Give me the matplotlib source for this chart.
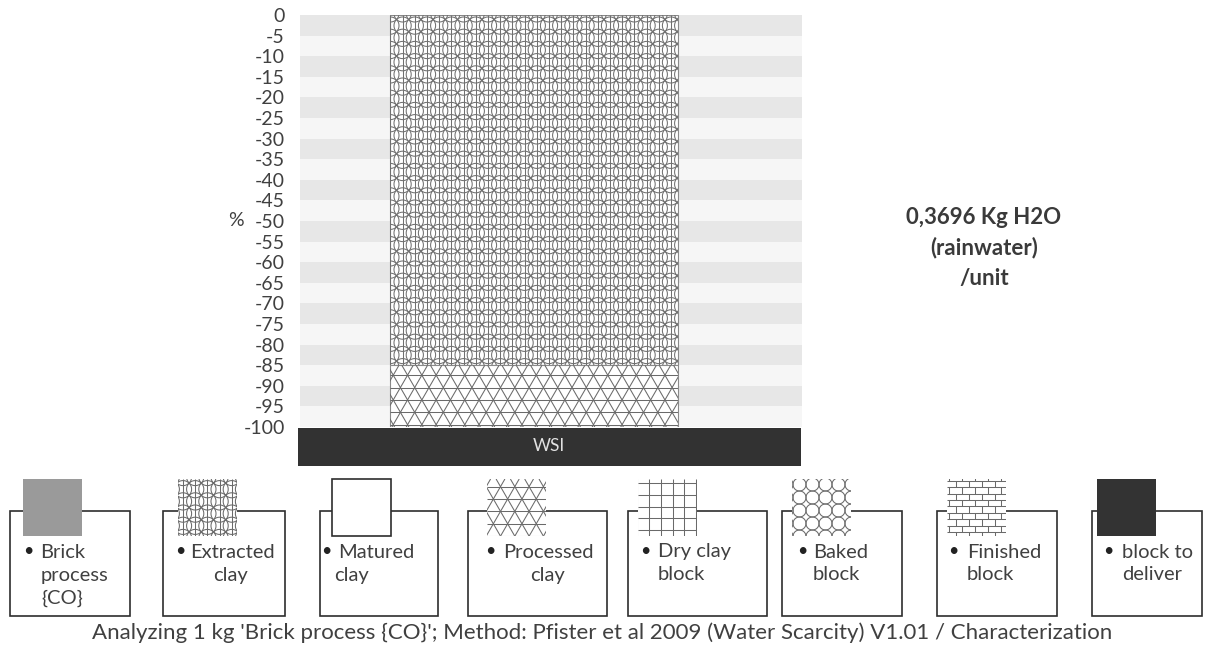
import numpy as np
import matplotlib
matplotlib.use("Agg")
import matplotlib.pyplot as plt
from matplotlib.patches import Rectangle
from matplotlib.collections import LineCollection
from matplotlib.transforms import IdentityTransform

plt.rcParams["font.family"] = ["Lato", "DejaVu Sans"]

# ---- data -------------------------------------------------------------
category = "WSI"
stage_names = ["Brick process {CO}", "Extracted clay", "Matured clay", "Processed clay",
               "Dry clay block", "Baked block", "Finished block", "block to deliver"]
legend_lines = [["Brick", "process", "{CO}"], ["Extracted", "clay"], ["Matured", "clay"],
                ["Processed", "clay"], ["Dry clay", "block"], ["Baked", "block"],
                ["Finished", "block"], ["block to", "deliver"]]
wsi_share = [0.0, -85.0, 0.0, -15.0, 0.0, 0.0, 0.0, 0.0]   # % of total
y_ticks = list(range(0, -101, -5))
y_tick_labels = [str(v) for v in y_ticks]
total_text = ["0,3696 Kg H2O", "(rainwater)", "/unit"]
caption = ("Analyzing 1 kg 'Brick process {CO}'; Method: Pfister et al 2009 "
           "(Water Scarcity) V1.01 / Characterization")

# fill style of every stage: (face colour, line pattern)
stage_fill = [("#9a9a9a", None), ("white", "rings"), ("white", None), ("white", "tri"),
              ("white", "grid"), ("white", "circles"), ("white", "bricks"), ("#333333", None)]

W, H = 1206, 660
TXT = "#404040"
PAT = "#6a6a6a"


def _circle(cx, cy, r, n=36):
    t = np.linspace(0, 2 * np.pi, n + 1)
    return np.column_stack([cx + r * np.cos(t), cy + r * np.sin(t)])


def pattern_segments(kind, x0, y0, x1, y1):
    """Line work of a fill pattern covering a display-pixel box."""
    segs = []
    if kind == "grid":
        s = 11.8
        for x in np.arange(np.floor(x0 / s) * s, x1 + s, s):
            segs.append([(x, y0), (x, y1)])
        for y in np.arange(np.floor(y0 / s) * s, y1 + s, s):
            segs.append([(x0, y), (x1, y)])
    elif kind == "tri":
        a = 14.3
        h = a * np.sqrt(3) / 2
        k = a / (2 * h)
        for y in np.arange(np.floor(y0 / h) * h, y1 + h, h):
            segs.append([(x0, y), (x1, y)])
        for c in np.arange(np.floor((x0 - k * y1) / a) * a, x1 - k * y0 + a, a):
            segs.append([(c + k * y0, y0), (c + k * y1, y1)])
        for c in np.arange(np.floor((x0 + k * y0) / a) * a, x1 + k * y1 + a, a):
            segs.append([(c - k * y0, y0), (c - k * y1, y1)])
    elif kind == "rings":
        s = 12.2
        r = s / np.sqrt(2)
        for i in np.arange(np.floor(x0 / s) - 1, np.ceil(x1 / s) + 2):
            segs.append([(i * s, y0), (i * s, y1)])
            for j in np.arange(np.floor(y0 / s) - 1, np.ceil(y1 / s) + 2):
                segs.append(_circle(i * s, j * s, r))
    elif kind == "circles":
        s = 13.0
        for i in np.arange(np.floor(x0 / s) - 1, np.ceil(x1 / s) + 1):
            for j in np.arange(np.floor(y0 / s) - 1, np.ceil(y1 / s) + 1):
                segs.append(_circle((i + 0.5) * s, (j + 0.5) * s, s / 2))
    elif kind == "bricks":
        bh, bw = 6.4, 13.0
        rows = np.arange(np.floor(y0 / bh), np.ceil(y1 / bh) + 1)
        for j in rows:
            y = j * bh
            segs.append([(x0, y), (x1, y)])
            off = (j % 2) * bw / 2
            for x in np.arange(np.floor(x0 / bw) * bw + off - bw, x1 + bw, bw):
                segs.append([(x, y), (x, y + bh)])
    return segs


def fill_pattern(ax, patch, kind, lw=0.75, color=PAT, z=2.5):
    if kind is None:
        return
    bb = patch.get_window_extent()
    segs = pattern_segments(kind, bb.x0, bb.y0, bb.x1, bb.y1)
    lc = LineCollection(segs, colors=color, linewidths=lw, transform=IdentityTransform(),
                        zorder=z)
    ax.add_collection(lc, autolim=False)
    lc.set_clip_path(patch)


fig = plt.figure(figsize=(W / 100, H / 100), dpi=100)
fig.patch.set_facecolor("white")

# ---- main stacked column -----------------------------------------------
ax = fig.add_axes([300 / W, 1 - 427 / H, 502 / W, 412 / H])
ax.set_xlim(-0.8125, 0.9306)
ax.set_ylim(-100, 0)
for spine in ax.spines.values():
    spine.set_visible(False)
ax.set_xticks([])
ax.set_yticks(y_ticks)
ax.set_yticklabels(y_tick_labels)
ax.tick_params(axis="y", length=0, pad=11, labelsize=14, labelcolor=TXT)

# alternating horizontal bands behind the column
for n, top in enumerate(y_ticks[:-1]):
    ax.axhspan(top - 5, top, color="#e7e7e7" if n % 2 == 0 else "#f6f6f6",
               lw=0, zorder=0)

bottom = 0.0
for val, (face, kind) in zip(wsi_share, stage_fill):
    if val == 0:
        continue
    bars = ax.bar([0], [val], bottom=bottom, width=1.0, color="white",
                  edgecolor="#8a8a8a", linewidth=0.8, zorder=2)
    fill_pattern(ax, bars[0], kind, color="#707070" if kind == "rings" else PAT)
    bottom += val

# ---- overlay in pixel coordinates for labels and legend -----------------
lay = fig.add_axes([0, 0, 1, 1])
lay.set_xlim(0, W)
lay.set_ylim(H, 0)
lay.axis("off")

# category strip
lay.add_patch(Rectangle((298, 428), 503, 38, facecolor="#323232", edgecolor="none"))
lay.text(549, 446, category, color="#e2e2e2", fontsize=12.5, ha="center", va="center")

lay.text(236, 221, "%", color=TXT, fontsize=14, ha="center", va="center")

for n, line in enumerate(total_text):
    lay.text(984, 217 + n * 31, line, color="#3a3a3a", fontsize=16, fontweight="bold",
             ha="center", va="center")

# legend boxes: box left/right, swatch left, bullet x, x of each text line
boxes = [
    (10, 130, 23, 28, [40, 41, 41]),
    (163, 285, 178, 180, [190, 213]),
    (320, 438, 332, 326, [338, 334]),
    (468, 607, 487, 490, [503, 530]),
    (628, 767, 638, 645, [658, 658]),
    (782, 902, 792, 802, [813, 813]),
    (937, 1057, 947, 953, [967, 967]),
    (1092, 1202, 1097, 1108, [1122, 1122]),
]
for (bl, br, sl, bx, lx), lines, (face, kind) in zip(boxes, legend_lines, stage_fill):
    lay.add_patch(Rectangle((bl, 511), br - bl, 105, facecolor="white",
                            edgecolor="#2e2e2e", linewidth=1.2, zorder=1))
    sw_edge = "#2e2e2e" if (face == "white" and kind is None) else "none"
    sw = Rectangle((sl, 479), 59, 57, facecolor=face, edgecolor=sw_edge,
                   linewidth=1.2, zorder=2)
    lay.add_patch(sw)
    fill_pattern(lay, sw, kind, z=2.5)
    lay.text(bx, 551, "\u2022", color="#222222", fontsize=13, ha="center", va="center")
    for n, (txt, x) in enumerate(zip(lines, lx)):
        lay.text(x, 552 + n * 23, txt, color=TXT, fontsize=14.5, ha="left", va="center")

lay.text(602, 633, caption, color=TXT, fontsize=16, ha="center", va="center")

fig.savefig("out.png", dpi=100, facecolor="white")
